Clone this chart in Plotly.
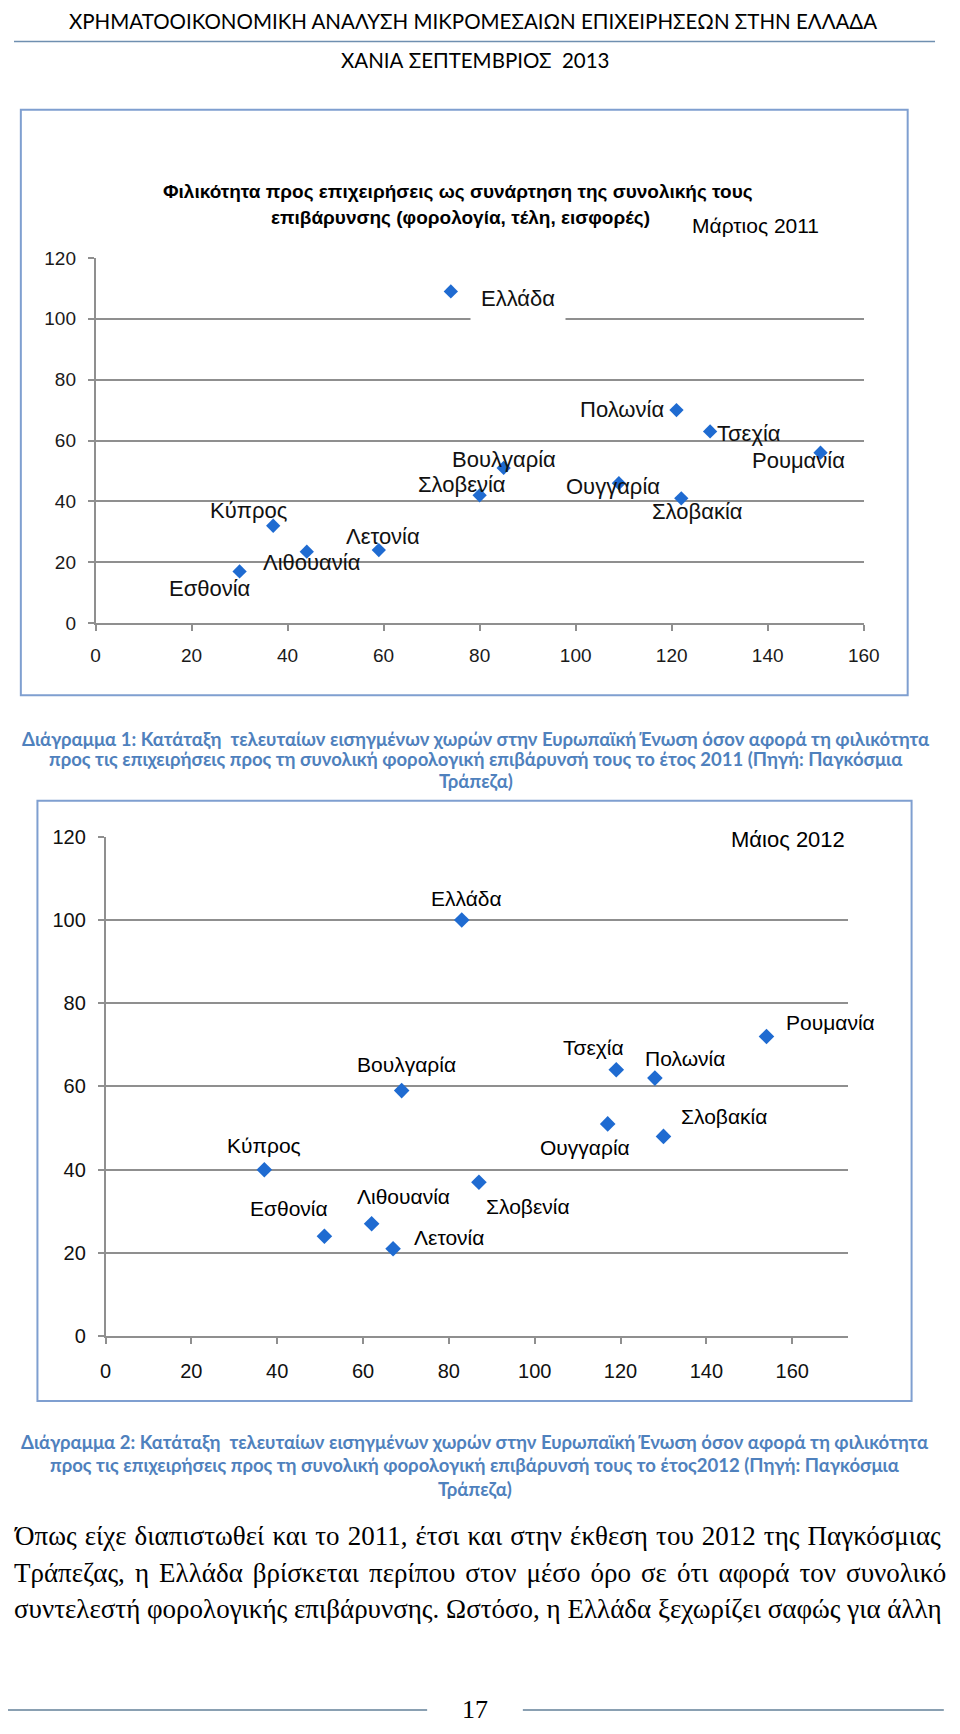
import plotly.graph_objects as go

# ---------------- data ----------------
countries_2011 = ["Ελλάδα", "Πολωνία", "Τσεχία", "Ρουμανία", "Βουλγαρία", "Σλοβενία",
                  "Ουγγαρία", "Σλοβακία", "Κύπρος", "Λετονία", "Λιθουανία", "Εσθονία"]
x_2011 = [74, 121, 128, 151, 85, 80, 109, 122, 37, 59, 44, 30]
y_2011 = [109, 70, 63, 56, 51, 42, 46, 41, 32, 24, 23.5, 17]

countries_2012 = ["Ελλάδα", "Ρουμανία", "Τσεχία", "Πολωνία", "Βουλγαρία", "Σλοβακία",
                  "Ουγγαρία", "Κύπρος", "Σλοβενία", "Λιθουανία", "Εσθονία", "Λετονία"]
x_2012 = [83, 154, 119, 128, 69, 130, 117, 37, 87, 62, 51, 67]
y_2012 = [100, 72, 64, 62, 59, 48, 51, 40, 37, 27, 24, 21]

x_ticks = [0, 20, 40, 60, 80, 100, 120, 140, 160]
y_ticks = [0, 20, 40, 60, 80, 100, 120]

# label offsets (pixels) relative to each point - styling only
off_2011 = [(67, -7), (-54, 1), (39, -2), (-22, -8), (0, 8), (-18, 11),
            (-6, -3), (16, -13), (-25, 15), (4, 14), (5, -11), (-30, -17)]
off_2012 = [(5, 21), (64, 14), (-23, 22), (30, 20), (5, 26), (61, 20),
            (-23, -24), (0, 24), (49, -24), (32, 27), (-35, 28), (56, 11)]

# page is 960x1734; body keeps an 8px margin, so the figure is 944x1718
M = 8
W, H = 960 - 2 * M, 1734 - 2 * M
def px(x): return (x - M) / W
def py(y): return 1 - (y - M) / H

MARK = "#1f6bd1"
GRID = "#8f8f8f"
CAP = "#4f81bd"
BOX = "#7f9fd0"
SANS = "Liberation Sans, Arial, sans-serif"
CAL = "Lato, Noto Sans, sans-serif"
SERIF = "Liberation Serif, Times New Roman, serif"

fig = go.Figure()
fig.add_trace(go.Scatter(x=x_2011, y=y_2011, mode="markers", xaxis="x", yaxis="y",
                         marker=dict(symbol="diamond", size=11, color=MARK), hoverinfo="skip"))
fig.add_trace(go.Scatter(x=x_2012, y=y_2012, mode="markers", xaxis="x2", yaxis="y2",
                         marker=dict(symbol="diamond", size=12, color=MARK), hoverinfo="skip"))

def axis(**kw):
    d = dict(showline=True, linecolor=GRID, linewidth=1.5, ticks="outside", ticklen=6,
             tickcolor=GRID, tickwidth=1.5, zeroline=False)
    d.update(kw)
    return d

fig.update_layout(
    width=W, height=H, margin=dict(l=0, r=0, t=0, b=0), showlegend=False,
    paper_bgcolor="white", plot_bgcolor="white",
    xaxis=axis(domain=[px(91.5), px(878)], range=[0, 160], anchor="y", tickvals=x_ticks,
               showgrid=False, ticklabelstandoff=8,
               tickfont=dict(family=SANS, size=19, color="#1a1a1a")),
    yaxis=axis(domain=[py(620), py(250)], range=[0, 120], anchor="x", tickvals=y_ticks,
               showgrid=True, gridcolor=GRID, gridwidth=1.5, ticklabelstandoff=8,
               tickfont=dict(family=SANS, size=19, color="#1a1a1a")),
    xaxis2=axis(domain=[px(101.7), px(861.5)], range=[0, 172.9], anchor="y2", tickvals=x_ticks,
                showgrid=False, ticklabelstandoff=10,
                tickfont=dict(family=SANS, size=20, color="#111")),
    yaxis2=axis(domain=[py(1342.3), py(836.3)], range=[0, 120], anchor="x2", tickvals=y_ticks,
                showgrid=True, gridcolor=GRID, gridwidth=1.5, ticklabelstandoff=8,
                tickfont=dict(family=SANS, size=20, color="#111")),
)

ann = []
for name, x, y, (dx, dy) in zip(countries_2011, x_2011, y_2011, off_2011):
    d = dict(x=x, y=y, xref="x", yref="y", text=name, showarrow=False,
             xshift=dx, yshift=dy, font=dict(family=SANS, size=22, color="#111"))
    if name == "Ελλάδα":
        d.update(bgcolor="white", borderpad=10)
    ann.append(d)
for name, x, y, (dx, dy) in zip(countries_2012, x_2012, y_2012, off_2012):
    ann.append(dict(x=x, y=y, xref="x2", yref="y2", text=name, showarrow=False,
                    xshift=dx, yshift=dy, font=dict(family=SANS, size=21, color="#000")))

def T(text, x, y, size, color="#000", family=CAL, xanchor="center", bg=None, pad=1):
    d = dict(x=px(x), y=py(y), xref="paper", yref="paper", text=text, showarrow=False,
             xanchor=xanchor, yanchor="middle", font=dict(family=family, size=size, color=color))
    if bg:
        d["bgcolor"] = bg
        d["borderpad"] = pad
    ann.append(d)

# page header
T("ΧΡΗΜΑΤΟΟΙΚΟΝΟΜΙΚΗ ΑΝΑΛΥΣΗ ΜΙΚΡΟΜΕΣΑΙΩΝ ΕΠΙΧΕΙΡΗΣΕΩΝ ΣΤΗΝ ΕΛΛΑΔΑ", 478, 10, 20.5)
T("ΧΑΝΙΑ ΣΕΠΤΕΜΒΡΙΟΣ  2013", 480, 50, 20.5)

# chart 1 titles
T("<b>Φιλικότητα προς επιχειρήσεις ως συνάρτηση της συνολικής τους</b>", 463, 183, 19, family=SANS)
T("<b>επιβάρυνσης (φορολογία, τέλη, εισφορές)</b>", 465, 209, 19, family=SANS)
T("Μάρτιος 2011", 767, 217, 21, family=SANS)
# chart 2 title
T("Μάιος 2012", 800, 839, 22, family=SANS, bg="white", pad=8)

# captions
cap1 = ["Διάγραμμα 1: Κατάταξη  τελευταίων εισηγμένων χωρών στην Ευρωπαϊκή Ένωση όσον αφορά τη φιλικότητα",
        "προς τις επιχειρήσεις προς τη συνολική φορολογική επιβάρυνσή τους το έτος 2011 (Πηγή: Παγκόσμια",
        "Τράπεζα)"]
for t, y in zip(cap1, [737, 758, 780]):
    T("<b>" + t + "</b>", 481, y, 18.5, color=CAP)
cap2 = ["Διάγραμμα 2: Κατάταξη  τελευταίων εισηγμένων χωρών στην Ευρωπαϊκή Ένωση όσον αφορά τη φιλικότητα",
        "προς τις επιχειρήσεις προς τη συνολική φορολογική επιβάρυνσή τους το έτος2012 (Πηγή: Παγκόσμια",
        "Τράπεζα)"]
for t, y in zip(cap2, [1449, 1473, 1497]):
    T("<b>" + t + "</b>", 480, y, 18.5, color=CAP)

body = ["Όπως είχε διαπιστωθεί και το 2011, έτσι και στην έκθεση του 2012 της Παγκόσμιας",
        "Τράπεζας, η Ελλάδα βρίσκεται περίπου στον μέσο όρο σε ότι αφορά τον συνολικό",
        "συντελεστή φορολογικής επιβάρυνσης. Ωστόσο, η Ελλάδα ξεχωρίζει σαφώς για άλλη"]
spacing = [1.3, 3.3, 0]
for t, y, s in zip(body, [1545, 1582, 1619], spacing):
    T('<span style="word-spacing:%.1fpx">%s</span>' % (s, t), 6, y, 27, family=SERIF, xanchor="left")

T("17", 480, 1720, 26, family=SERIF)

fig.update_layout(annotations=ann)

shapes = [
    dict(type="line", xref="paper", yref="paper", x0=px(8), x1=px(951), y0=py(30.7), y1=py(30.7),
         line=dict(color="#6f8fb0", width=1.5)),
    dict(type="rect", xref="paper", yref="paper", x0=px(15), x1=px(923), y0=py(693), y1=py(100),
         line=dict(color=BOX, width=2)),
    dict(type="rect", xref="paper", yref="paper", x0=px(32), x1=px(927), y0=py(1408), y1=py(800),
         line=dict(color=BOX, width=2)),
    dict(type="line", xref="paper", yref="paper", x0=px(0), x1=px(431), y0=py(1721), y1=py(1721),
         line=dict(color="#8aa0b2", width=2)),
    dict(type="line", xref="paper", yref="paper", x0=px(529), x1=px(960), y0=py(1721), y1=py(1721),
         line=dict(color="#8aa0b2", width=2)),
]
fig.update_layout(shapes=shapes)

fig.write_html("out.html", config={"displayModeBar": False})
